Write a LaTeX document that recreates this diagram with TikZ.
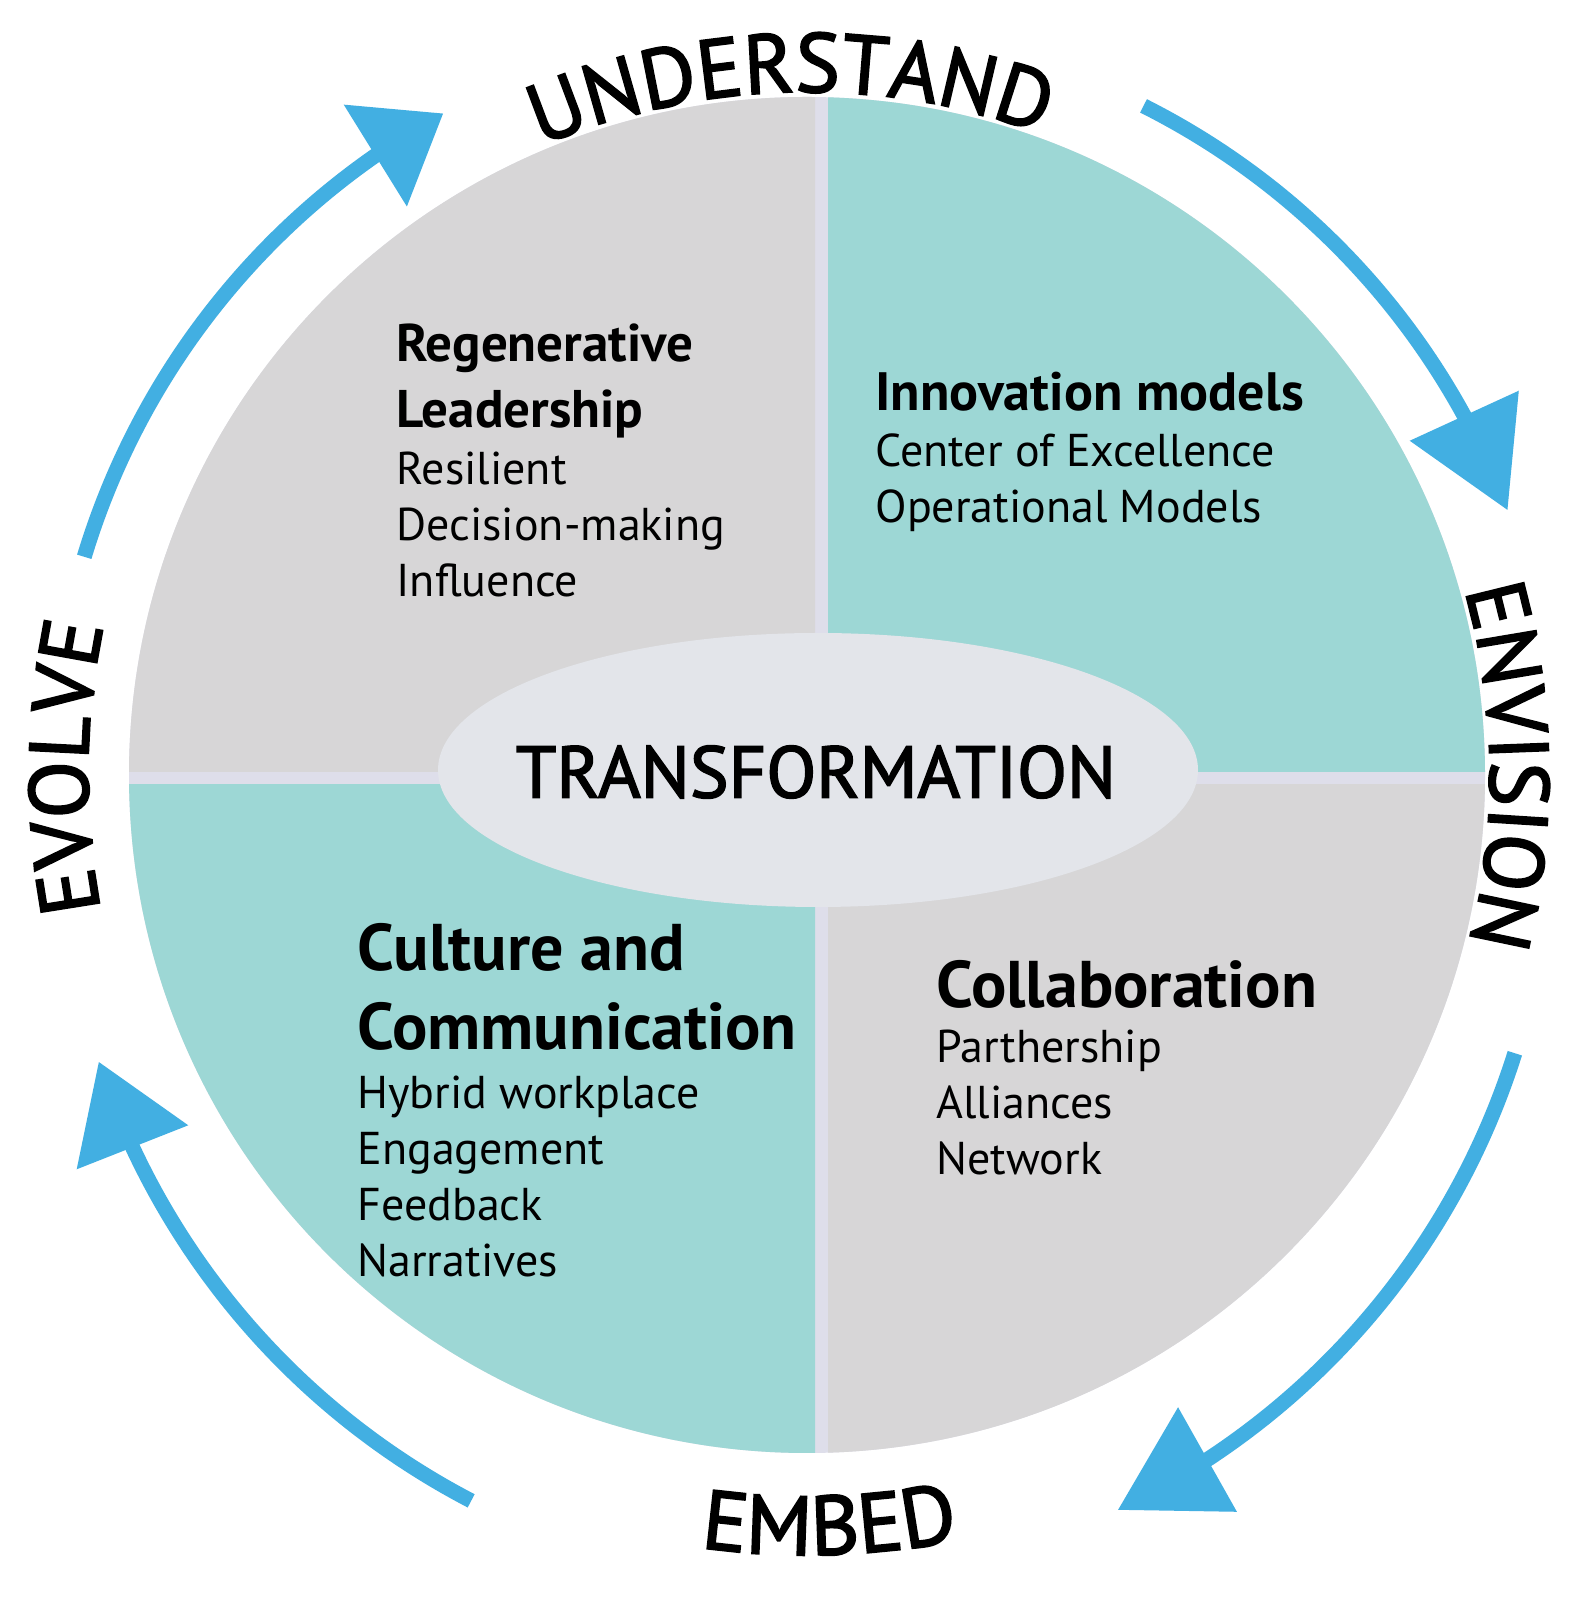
\documentclass[tikz,border=0pt]{standalone}
\usepackage{fontspec}
\setmainfont{PT Sans}
\newfontfamily\ringfamily[FakeBold=2.2]{PT Sans}
\usetikzlibrary{arrows.meta,bending,decorations.text}

\definecolor{quadteal}{RGB}{157,215,213}
\definecolor{quadgray}{RGB}{215,214,215}
\definecolor{gapline}{RGB}{222,222,234}
\definecolor{corefill}{RGB}{227,229,234}
\definecolor{cycleblue}{RGB}{66,175,226}

\newcommand{\ringfont}{\ringfamily\fontsize{84}{84}\selectfont}

\begin{document}
\begin{tikzpicture}[
  x=1pt, y=1pt,
  quadhead/.style={anchor=base west, align=left, font=\bfseries\fontsize{53}{66}\selectfont},
  bighead/.style={quadhead, font=\bfseries\fontsize{66}{79}\selectfont},
  quaditems/.style={anchor=base west, align=left, font=\fontsize{46}{56}\selectfont},
  cyclearrow/.style={draw=cycleblue, line width=15pt, -{Triangle[length=#1, width=116pt]}},
  ringlabel/.style={decorate, decoration={text along path, text align=center, text={|\ringfont|#1}}}
]
\fill[white] (0,0) rectangle (1593,1599);
\useasboundingbox (0,0) rectangle (1593,1599);
\coordinate (hub) at (807,824);
\coordinate (hubr) at (791,774);
\coordinate (hubl) at (823,774);

% quadrants
\fill[gapline] (hub) circle[radius=678pt];
\begin{scope}
  \clip (0,827) rectangle (815,1599);
  \fill[quadgray] (hub) circle[radius=678pt];
\end{scope}
\begin{scope}
  \clip (828,827) rectangle (1593,1599);
  \fill[quadteal] (hub) circle[radius=678pt];
\end{scope}
\begin{scope}
  \clip (0,0) rectangle (815,814);
  \fill[quadteal] (hub) circle[radius=678pt];
\end{scope}
\begin{scope}
  \clip (828,0) rectangle (1593,814);
  \fill[quadgray] (hub) circle[radius=678pt];
\end{scope}

% centre
\fill[corefill] (818,829) ellipse[x radius=380pt, y radius=137pt];
\node[font=\ringfamily\fontsize{73}{73}\selectfont] (core) at (816,827) {TRANSFORMATION};

% quadrant texts (base = last line)
\node[quadhead] (lead-head) at (393,1171) {Regenerative\\Leadership};
\node[quaditems] (lead-items) at (393,1002) {Resilient\\Decision-making\\Influence};
\node[quadhead, font=\bfseries\fontsize{54}{66}\selectfont] (innov-head) at (872,1188) {Innovation models};
\node[quaditems] (innov-items) at (872,1076) {Center of Excellence\\Operational Models};
\node[bighead] (cult-head) at (354,549) {Culture and\\Communication};
\node[quaditems] (cult-items) at (354,322) {Hybrid workplace\\Engagement\\Feedback\\Narratives};
\node[bighead] (collab-head) at (933,591) {Collaboration};
\node[quaditems] (collab-items) at (933,424) {Parthership\\Alliances\\Network};

% cycle arrows
\path (hub) ++(163.2:755pt) coordinate (evolve-out);
\path (hub) ++(63.3:749pt) coordinate (understand-out);
\path (hubr) ++(-17.5:759pt) coordinate (envision-out);
\path (hubl) ++(242.5:762pt) coordinate (embed-out);
\draw[cyclearrow=80pt] (evolve-out) arc[start angle=163.2, end angle=118.8, radius=755pt];
\draw[cyclearrow=104pt] (understand-out) arc[start angle=63.3, end angle=20.7, radius=749pt];
\draw[cyclearrow=103pt] (envision-out) arc[start angle=-17.5, end angle=-64.5, radius=759pt];
\draw[cyclearrow=92pt] (embed-out) arc[start angle=242.5, end angle=198.1, radius=762pt];

% ring labels
\path[ringlabel=UNDERSTAND] (hub) ++(121.4:683pt) arc[start angle=121.4, end angle=61.4, radius=683pt];
\path[ringlabel=ENVISION] (hub) ++(30.75:683pt) arc[start angle=30.75, end angle=-29.25, radius=683pt];
\path[ringlabel=EMBED] (hub) ++(-118.3:780pt) arc[start angle=-118.3, end angle=-58.3, radius=780pt];
\path[ringlabel=EVOLVE] (hub) ++(209.4:719pt) arc[start angle=209.4, end angle=149.4, radius=719pt];
\end{tikzpicture}
\end{document}
